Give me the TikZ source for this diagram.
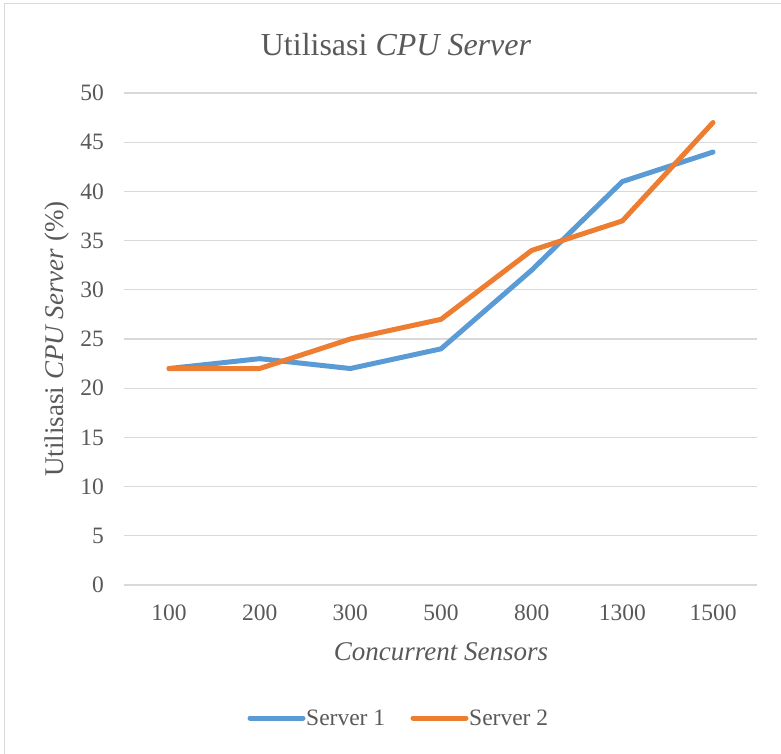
\documentclass[tikz,border=0pt]{standalone}
\usepackage{fontspec}
\setmainfont{Liberation Serif}
\usepackage{xcolor}
\usepackage{tikz}
\definecolor{GridGray}{RGB}{217,217,217}
\definecolor{TextGray}{RGB}{89,89,89}
\definecolor{SrvBlue}{RGB}{91,155,213}
\definecolor{SrvOrange}{RGB}{237,125,49}

\begin{document}
\begin{tikzpicture}[x=1pt,y=-1pt,
        grid/.style={draw=GridGray,line width=1.3pt},
        lbl/.style={text=TextGray,font=\fontsize{23.5}{28}\selectfont,inner sep=0pt},
        serie/.style={line width=5pt,line cap=round,line join=round},
        ttl/.style={text=TextGray,font=\fontsize{32}{38}\selectfont,inner sep=0pt},
        axttl/.style={text=TextGray,font=\fontsize{27}{32}\selectfont,inner sep=0pt}
      ]
        \useasboundingbox (0,0) rectangle (781,754);
        \clip (0,0) rectangle (781,754);
        \draw[GridGray,line width=1.5pt] (4.5,790) -- (4.5,3.5) -- (800,3.5);
        % grid and y labels
        \foreach \v in {0,5,...,50} {
          \draw[grid] (124,{585-\v*9.84}) -- (757,{585-\v*9.84});
          \node[lbl,anchor=east] (y\v) at (104,{585-\v*9.84}) {\v};
        }
        % x labels
        \foreach \c [count=\i from 0] in {100,200,300,500,800,1300,1500}
          \node[lbl] (x\i) at ({169+\i*90.67},613) {\c};
        % series
        \draw[serie,SrvBlue] (169,{585-22*9.84})
          \foreach \v [count=\i] in {23,22,24,32,41,44} { -- ({169+\i*90.67},{585-\v*9.84}) };
        \draw[serie,SrvOrange] (169,{585-22*9.84})
          \foreach \v [count=\i] in {22,25,27,34,37,47} { -- ({169+\i*90.67},{585-\v*9.84}) };
        % titles
        \node[ttl] (T) at (396,45) {Utilisasi \textit{CPU Server}};
        \node[axttl,rotate=90] (YT) at (57,339) {Utilisasi \textit{CPU Server} (\%)};
        \node[axttl] (XT) at (441,652) {\textit{Concurrent Sensors}};
        % legend
        \coordinate (L1a) at (250,718); \coordinate (L1b) at (303,718);
        \coordinate (L2a) at (413,718); \coordinate (L2b) at (466,718);
        \draw[serie,SrvBlue] (L1a) -- (L1b);
        \draw[serie,SrvOrange] (L2a) -- (L2b);
        \node[lbl,anchor=west] (S1) at (306,718) {Server 1};
        \node[lbl,anchor=west] (S2) at (469,718) {Server 2};
      \end{tikzpicture}
\end{document}
